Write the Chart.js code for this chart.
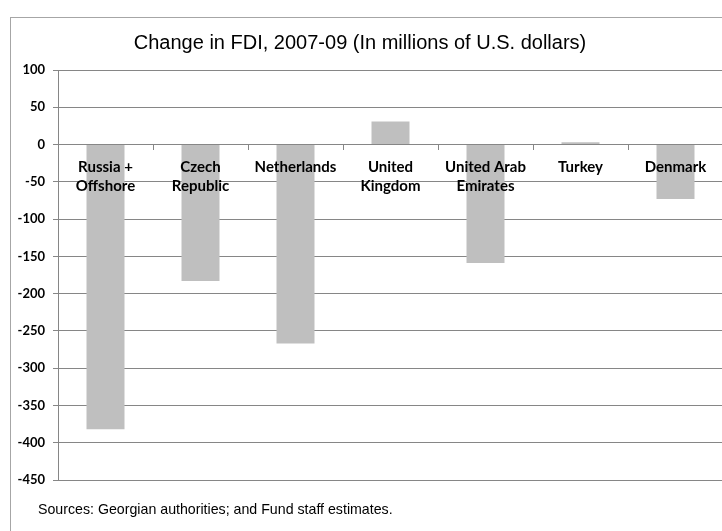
<!DOCTYPE html>
<html>
<head>
<meta charset="utf-8">
<script src="https://cdn.jsdelivr.net/npm/chart.js@4/dist/chart.umd.min.js"></script>
<style>
    html, body { margin: 0; padding: 0; background: #fff; }
    #wrap { width: 722px; height: 531px; overflow: hidden; position: relative; }
    #wrap canvas { position: absolute; left: 0; top: 0; }
</style>
</head>
<body>
<div id="wrap"><canvas id="fdi-chart" width="740" height="550"></canvas></div>
<script>
// Change in FDI by source country, 2007-09
var countries = [['Russia +', 'Offshore'], ['Czech', 'Republic'], ['Netherlands'], ['United', 'Kingdom'], ['United Arab', 'Emirates'], ['Turkey'], ['Denmark']];
var fdiChange = [-382, -183, -267, 31, -159, 3, -73];

var yMin = -450, yMax = 100, yStep = 50;

var titleText = 'Change in FDI, 2007-09 (In millions of U.S. dollars)';
var sourceText = 'Sources: Georgian authorities; and Fund staff estimates.';

var gridColor = '#868686';
var textFont = '"Liberation Sans", Arial, sans-serif';

//frame, title and source note
const framePlugin = {
    id: 'frame',
    beforeDraw(chart) {
        const ctx = chart.ctx;
        ctx.save();
        ctx.strokeStyle = '#a6a6a6';
        ctx.lineWidth = 1;
        ctx.strokeRect(10.5, 17.5, 800, 600);
        ctx.restore();
    },
    afterDraw(chart) {
        const ctx = chart.ctx;
        ctx.save();
        ctx.fillStyle = '#000';
        ctx.textBaseline = 'middle';
        ctx.textAlign = 'center';
        ctx.font = '20px ' + textFont;
        ctx.fillText(titleText, 360, 43);
        ctx.textAlign = 'left';
        ctx.font = '14.2px ' + textFont;
        ctx.fillText(sourceText, 38, 510);
        ctx.restore();
    }
};

var ctxFdi = document.getElementById('fdi-chart').getContext('2d');

let fdiChart = new Chart(ctxFdi, {
    type: 'bar',
    data: {
        labels: countries,
        datasets: [{
            data: fdiChange,
            backgroundColor: '#bfbfbf',
            borderWidth: 0,
            barPercentage: 0.4,
            categoryPercentage: 1
        }]
    },
    options: {
        responsive: false,
        animation: false,
        layout: {
            padding: { left: 10, top: 70, right: 17, bottom: 70 }
        },
        plugins: {
            legend: { display: false },
            tooltip: { enabled: false },
            title: { display: false }
        },
        scales: {
            x: {
                position: { y: 0 },
                grid: {
                    offset: true,
                    drawOnChartArea: false,
                    drawTicks: true,
                    tickLength: 5,
                    color: gridColor,
                    z: 1
                },
                border: { display: true, color: gridColor, z: 1 },
                ticks: {
                    z: 1,   //country names sit on top of the bars
                    color: '#000',
                    padding: 8,
                    maxRotation: 0,
                    autoSkip: false,
                    font: { family: 'Lato', weight: 'bold', size: 15, lineHeight: 1.27 }
                }
            },
            y: {
                min: yMin,
                max: yMax,
                afterFit: function (scale) { scale.width = 48; },
                grid: {
                    color: gridColor,
                    tickLength: 5
                },
                border: { display: true, color: gridColor },
                ticks: {
                    stepSize: yStep,
                    color: '#000',
                    padding: 8,
                    font: { family: 'Lato', weight: 'bold', size: 13 }
                }
            }
        }
    },
    plugins: [framePlugin]
})
</script>
</body>
</html>
